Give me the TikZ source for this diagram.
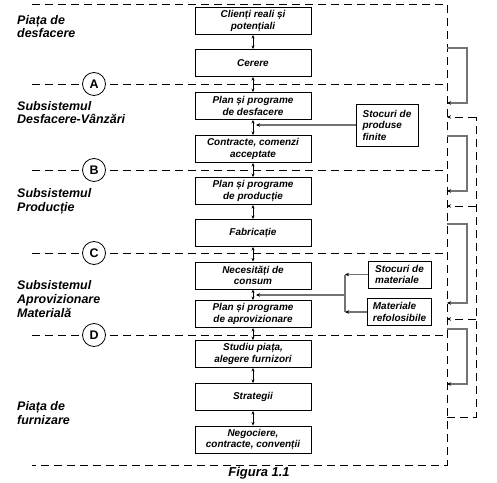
\documentclass[tikz,border=0pt]{standalone}
\usepackage{fontspec}
\setmainfont{Liberation Sans}
\usetikzlibrary{arrows.meta}
\begin{document}
\begin{tikzpicture}[x=1bp,y=-1bp,
        box/.style={draw,line width=0.9bp,minimum width=116bp,minimum height=27bp,inner sep=1bp,align=center,font=\fontsize{10}{11.5}\selectfont\bfseries\itshape},
        stockbox/.style={box,minimum width=62bp,inner xsep=5bp,align=left},
        lbl/.style={anchor=west,inner sep=0pt,align=left,font=\fontsize{12.5}{13.8}\selectfont\bfseries\itshape},
        letterdot/.style={circle,draw,fill=white,line width=0.8bp,minimum size=23bp,inner sep=0pt,font=\fontsize{12.5}{13}\selectfont\bfseries},
        dsh/.style={line width=0.9bp,dash pattern=on 8bp off 5bp},
        flow/.style={line width=0.8bp,{Stealth[length=3.5bp,width=3bp]}-{Stealth[length=3.5bp,width=3bp]}},
        fbk/.style={draw=black!55,line width=1.3bp,-{Stealth[length=4bp,width=3.5bp,black]}}]
        \useasboundingbox (0,0) rectangle (497,483);

        \draw[dsh] (32,4) -- (447,4) -- (447,465) -- (32,465);
        \foreach \y/\l in {84/A,170/B,253/C,335/D} {
            \draw[dsh] (32,\y) -- (447,\y);
            \node[letterdot] at (94,\y) (sep\l) {\l};
        }

        \node[lbl] at (17,26.5) (piatadesf) {Piața de\\desfacere};
        \node[lbl] at (17,112.5) (subdesf) {Subsistemul\\Desfacere-Vânzări};
        \node[lbl] at (17,201) (subprod) {Subsistemul\\Producție};
        \node[lbl] at (17,299) (subaprov) {Subsistemul\\Aprovizionare\\Materială};
        \node[lbl] at (17,413) (piatafurn) {Piața de\\furnizare};

        \node[box] at (253,21) (clienti) {Clienți reali și\\potențiali};
        \node[box] at (253,63) (cerere) {Cerere};
        \node[box] at (253,106) (plandesf) {Plan și programe\\de desfacere};
        \node[box] at (253,149) (contracte) {Contracte, comenzi\\acceptate};
        \node[box] at (253,191) (planprod) {Plan și programe\\de producție};
        \node[box] at (253,233) (fabricatie) {Fabricație};
        \node[box] at (253,275.5) (necesitati) {Necesități de\\consum};
        \node[box] at (253,314) (planaprov) {Plan și programe\\de aprovizionare};
        \node[box] at (253,354) (studiu) {Studiu piața,\\alegere furnizori};
        \node[box] at (253,397) (strategii) {Strategii};
        \node[box] at (253,439.5) (negociere) {Negociere,\\contracte, convenții};

        \foreach \a/\b in {clienti/cerere,cerere/plandesf,plandesf/contracte,contracte/planprod,planprod/fabricatie,fabricatie/necesitati,necesitati/planaprov,planaprov/studiu,studiu/strategii,strategii/negociere}
            \draw[flow] (\a) -- (\b);

        \node[stockbox,minimum height=42bp] at (387,125) (stocfinite) {Stocuri de\\produse\\finite};
        \draw[fbk] (stocfinite) -- ([xshift=3bp]stocfinite.west -| plandesf);

        \node[stockbox,minimum width=63bp] at (399.5,274.5) (stocmat) {Stocuri de\\materiale};
        \node[stockbox,minimum width=63bp] at (399.5,312) (matref) {Materiale\\refolosibile};
        \coordinate (junc) at (345,295);
        \draw[fbk] (stocmat) -- (stocmat -| junc);
        \draw[fbk] (matref) -- (matref -| junc);
        \draw[fbk,-] (stocmat -| junc) -- (matref -| junc);
        \draw[fbk] (junc) -- ([xshift=3bp]junc -| necesitati);

        \foreach \ya/\yb in {48/103,136/191,224/303,329/384}
            \draw[fbk] (447,\ya) -- (467,\ya) -- (467,\yb) -- (447,\yb);

        \draw[dsh] (447,417) -- (476,417) -- (476,117);
        \foreach \y in {117,206,319}
            \draw[dsh,-{Stealth[length=4bp,width=3.5bp]}] (476,\y) -- (447,\y);

        \node[font=\fontsize{13}{14}\selectfont\bfseries\itshape] at (259,473) (fig) {Figura 1.1};
    \end{tikzpicture}
\end{document}
